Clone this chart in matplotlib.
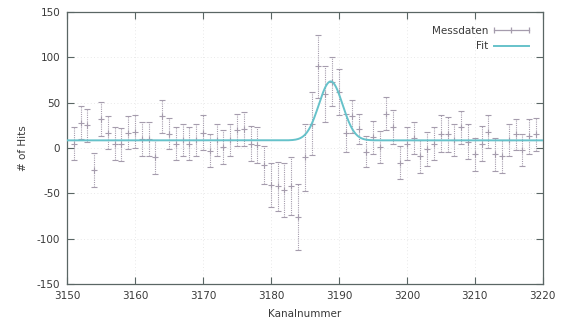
import numpy as np
import matplotlib
matplotlib.use("Agg")
import matplotlib.pyplot as plt
from matplotlib.lines import Line2D
from matplotlib.legend_handler import HandlerBase

plt.rcParams["font.family"] = ["DejaVu Sans"]
plt.rcParams["axes.unicode_minus"] = False

# Channel numbers and measured counts with their uncertainties
kanal = np.arange(3151, 3220)
hits = [5, 28, 25, -24, 32, 17, 5, 4, 17, 18, 10, 10, -10,
        35, 16, 5, 9, 5, 9, 17, -3, 9, 1, 9, 20, 21, 5,
        3, -19, -41, -42, -46, -42, -76, -10, 27, 90, 60, 73, 62, 17,
        35, 21, -4, 12, 1, 38, 23, -16, 5, 11, -9, -1, 5, 16,
        15, 9, 23, 7, -7, 5, 18, -7, -9, 9, 15, -2, 13, 15]
fehler = [18, 18, 18, 19, 19, 18, 18, 18, 18, 18, 19, 19, 19,
          18, 17, 18, 18, 18, 18, 19, 18, 18, 19, 18, 18, 19, 19,
          20, 21, 24, 27, 30, 32, 36, 37, 35, 35, 31, 27, 25, 21,
          18, 17, 17, 18, 18, 18, 19, 18, 18, 18, 18, 19, 18, 20,
          19, 18, 18, 19, 18, 19, 18, 18, 18, 18, 17, 18, 19, 18]

# Gaussian fit on a constant background
fit_offset = 8.5
fit_amp = 65.0
fit_mu = 3188.8
fit_sigma = 1.75

x_ticks = [3150, 3160, 3170, 3180, 3190, 3200, 3210, 3220]
y_ticks = [-150, -100, -50, 0, 50, 100, 150]

err_color = "#a59cad"
fit_color = "#66c2ca"
frame_color = "#5a6664"
text_color = "#3a3a3a"


class HandlerHErr(HandlerBase):
    """Horizontal error-bar sample drawn in the legend."""
    def create_artists(self, legend, orig_handle, xdescent, ydescent,
                       width, height, fontsize, trans):
        y = (height - ydescent) / 2
        x0, x1 = -xdescent, width - xdescent
        ln = Line2D([x0, (x0 + x1) / 2, x1], [y, y, y], color=err_color,
                    lw=0.9, marker="|", markersize=5, mew=0.9,
                    transform=trans)
        return [ln]


fig = plt.figure(figsize=(5.65, 3.35), dpi=100)
ax = fig.add_axes([0.1186, 0.152, 0.842, 0.812])

eb = ax.errorbar(kanal, hits, yerr=fehler, fmt="+", color=err_color,
                 ecolor=err_color, elinewidth=0.8, capsize=2.2,
                 capthick=0.8, markersize=5, mew=0.8, zorder=2)
eb[2][0].set_linestyle((0, (1, 1)))

xf = np.linspace(3150, 3220, 800)
yf = fit_offset + fit_amp * np.exp(-(xf - fit_mu) ** 2 / (2 * fit_sigma ** 2))
ax.plot(xf, yf, color=fit_color, lw=1.4, zorder=3)

ax.set_xlim(3150, 3220)
ax.set_ylim(-150, 150)
ax.set_xticks(x_ticks)
ax.set_yticks(y_ticks)
ax.tick_params(direction="in", length=5, width=0.8, color=frame_color,
               labelsize=7.5, labelcolor=text_color, top=True, right=True,
               pad=5)
for s in ax.spines.values():
    s.set_color(frame_color)
    s.set_linewidth(0.9)
ax.grid(True, color="#e2e2e2", lw=0.6, ls=(0, (1, 3)))
ax.set_axisbelow(True)

ax.set_xlabel("Kanalnummer", fontsize=7.5, color=text_color, labelpad=6)
ax.set_ylabel("# of Hits", fontsize=7.5, color=text_color, labelpad=6)

h_data = Line2D([], [], color=err_color)
h_fit = Line2D([], [], color=fit_color, lw=1.4)
ax.legend([h_data, h_fit], ["Messdaten", "Fit"], loc="upper right",
          frameon=False, markerfirst=False, fontsize=7.5, handlelength=3.4,
          handletextpad=0.5, labelspacing=0.55, borderaxespad=0.9,
          labelcolor=text_color,
          handler_map={h_data: HandlerHErr()})

fig.savefig("out.png", dpi=100)
